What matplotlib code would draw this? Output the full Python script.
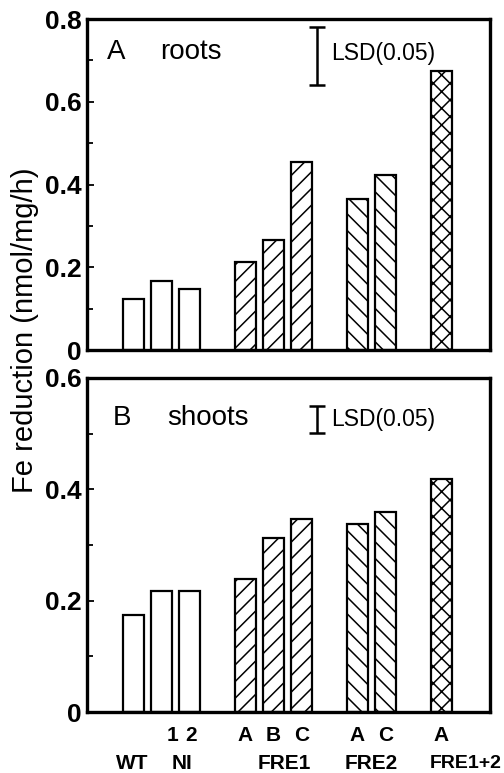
import numpy as np
import matplotlib
matplotlib.use("Agg")
import matplotlib.pyplot as plt
from matplotlib.transforms import blended_transform_factory

plt.rcParams['font.family'] = ['Liberation Sans', 'DejaVu Sans']
plt.rcParams['hatch.linewidth'] = 1.1

# bar data (Fe reduction, nmol/mg/h)
lines_ = ['WT', 'NI 1', 'NI 2', 'FRE1 A', 'FRE1 B', 'FRE1 C', 'FRE2 A', 'FRE2 C', 'FRE1+2 A']
roots = [0.124, 0.166, 0.147, 0.213, 0.267, 0.455, 0.364, 0.422, 0.675]
shoots = [0.175, 0.217, 0.218, 0.239, 0.312, 0.346, 0.337, 0.359, 0.418]
hatches = ['', '', '', '//', '//', '//', '\\\\', '\\\\', 'xx']
lsd_roots = 0.14
lsd_shoots = 0.048

sub_labels = ['1', '2', 'A', 'B', 'C', 'A', 'C', 'A']
group_labels = ['WT', 'NI', 'FRE1', 'FRE2']
last_group = 'FRE1+2'

# layout positions (gaps between groups)
pos = np.array([0, 1, 2, 4, 5, 6, 8, 9, 11], dtype=float)
sub_pos = [1.4, 2.05, 4, 5, 6, 8, 9, 11]
group_pos = [-0.05, 1.75, 5.4, 8.5]

fig = plt.figure(figsize=(5.04, 7.73), dpi=100)
axA = fig.add_axes([0.1726, 0.5472, 0.7996, 0.4282])
axB = fig.add_axes([0.1726, 0.0789, 0.7996, 0.4321])


def draw_panel(ax, vals, ymax, lsd, lsd_top, letter, name, name_x, letter_x, text_y):
    for x, v, h in zip(pos, vals, hatches):
        ax.bar(x, v, width=0.75, color='white', edgecolor='black',
               linewidth=1.6, hatch=h, zorder=2)
    ax.set_xlim(-1.66, 12.73)
    ax.set_ylim(0, ymax)
    ax.set_yticks(np.arange(0, ymax + 0.01, 0.2))
    ax.set_yticks(np.arange(0.1, ymax, 0.2), minor=True)
    ax.set_yticklabels(['0'] + ['%.1f' % t for t in np.arange(0.2, ymax + 0.01, 0.2)],
                       fontsize=19, fontweight='bold')
    ax.tick_params(axis='y', which='both', direction='in', width=1.3, pad=4)
    ax.tick_params(axis='y', which='major', length=5)
    ax.tick_params(axis='y', which='minor', length=4)
    ax.set_xticks([])
    for s in ax.spines.values():
        s.set_linewidth(2.4)
    # LSD bar
    ax.errorbar(6.55, lsd_top - lsd / 2, yerr=lsd / 2, fmt='none', ecolor='black',
                elinewidth=1.8, capsize=6, capthick=1.8)
    ax.text(7.05, text_y - 0.003, 'LSD(0.05)', fontsize=16.5, ha='left', va='center')
    ax.text(letter_x, text_y, letter, fontsize=20, ha='left', va='center')
    ax.text(name_x, text_y, name, fontsize=20, ha='left', va='center')


draw_panel(axA, roots, 0.8, lsd_roots, 0.78, 'A', 'roots', 0.95, -0.95, 0.72)
draw_panel(axB, shoots, 0.6, lsd_shoots, 0.55, 'B', 'shoots', 1.2, -0.73, 0.528)

tr = axB.get_xaxis_transform()
for x, s in zip(sub_pos, sub_labels):
    axB.text(x, -0.069, s, transform=tr, ha='center', va='center',
             fontsize=15, fontweight='bold')
for x, s in zip(group_pos, group_labels):
    axB.text(x, -0.153, s, transform=tr, ha='center', va='center',
             fontsize=15, fontweight='bold', clip_on=False)
tr_edge = blended_transform_factory(fig.transFigure, axB.transAxes)
axB.text(0.995, -0.153, last_group, transform=tr_edge, ha='right', va='center',
         fontsize=14, fontweight='bold', clip_on=False)

fig.text(0.05, 0.573, 'Fe reduction (nmol/mg/h)', rotation=90, ha='center',
         va='center', fontsize=21)

fig.savefig('out.png', dpi=100)
